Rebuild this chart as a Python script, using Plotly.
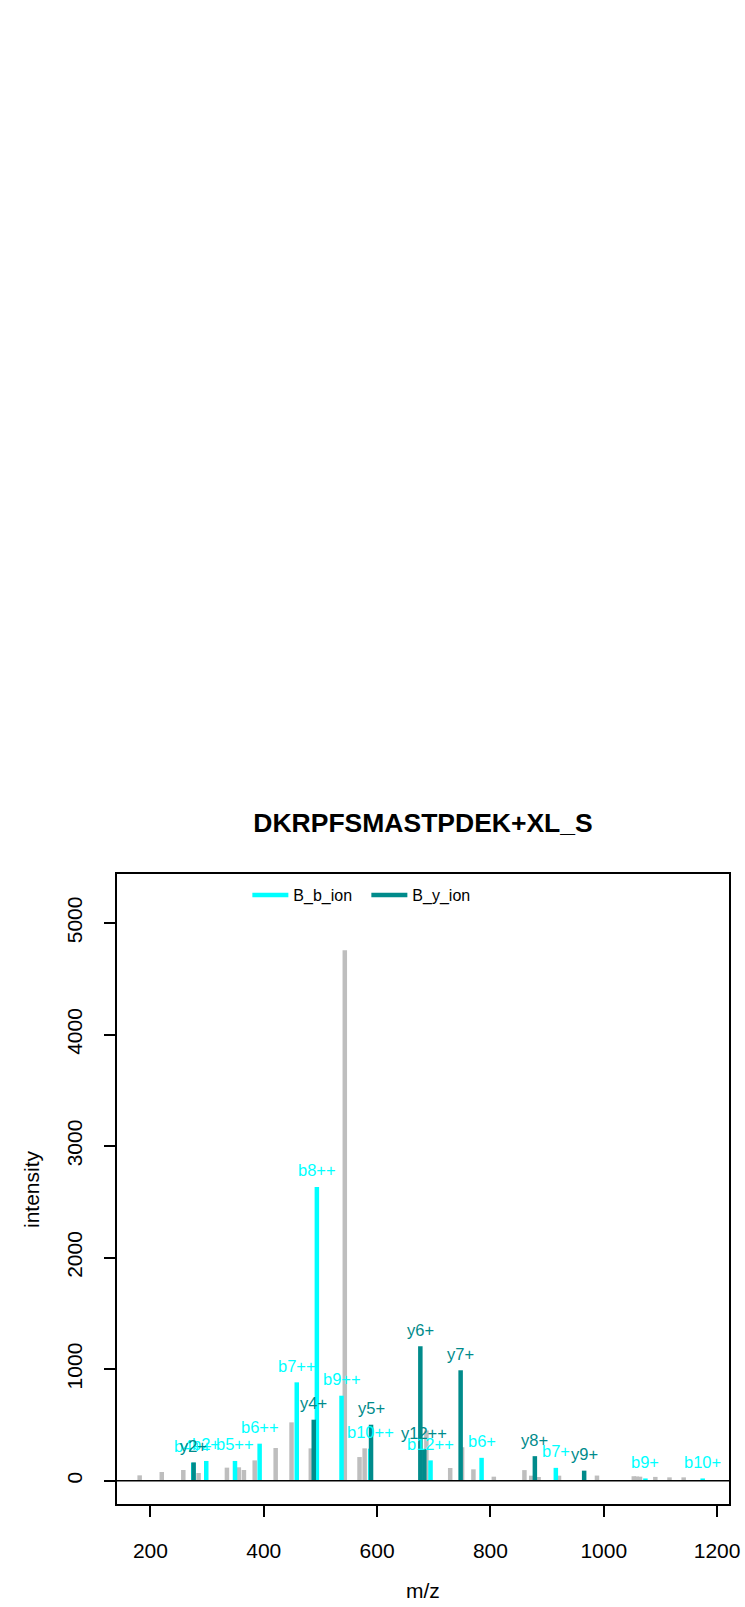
import plotly.graph_objects as go

# ---------------- data ----------------
title_text = "DKRPFSMASTPDEK+XL_S"

gray_mz = [181, 220, 258, 285, 335, 356, 365, 384, 421, 449, 483, 543, 569, 578,
           687, 729, 750, 770, 806, 860, 872, 885, 921, 988, 1053, 1058, 1064,
           1091, 1116, 1141]
gray_int = [48, 78, 96, 69, 117, 120, 96, 182, 293, 523, 290, 4756, 212, 290,
            450, 114, 300, 102, 36, 95, 45, 33, 45, 46, 40, 38, 36, 34, 30, 30]

b_mz = [275.6, 298.5, 349.2, 392.7, 458.2, 493.7, 537.2, 587.8, 694.3, 784.4,
        915.4, 1073.5, 1174.6]
b_int = [160, 177, 177, 332, 882, 2634, 762, 287, 182, 205, 115, 20, 20]
b_lab = ["b4++", "b2+", "b5++", "b6++", "b7++", "b8++", "b9++", "b10++",
         "b12++", "b6+", "b7+", "b9+", "b10+"]

y_mz = [276.2, 488.2, 589.3, 676.3, 683.3, 747.4, 878.4, 965.4]
y_int = [164, 547, 502, 1205, 284, 990, 220, 90]
y_lab = ["y2+", "y4+", "y5+", "y6+", "y12++", "y7+", "y8+", "y9+"]

x_ticks = [200, 400, 600, 800, 1000, 1200]
y_ticks = [0, 1000, 2000, 3000, 4000, 5000]

GRAY = "#BEBEBE"
CYAN = "#00FFFF"
TEAL = "#008B8B"
FONT = "Liberation Sans, Arial, sans-serif"

W, H = 745, 1607
L, R, T, B = 117, 16, 874, 103
PW, PH = W - L - R, H - T - B


def stems(xs, ys):
    sx, sy = [], []
    for x, y in zip(xs, ys):
        sx += [x, x, None]
        sy += [0, y, None]
    return sx, sy


fig = go.Figure()

gx, gy = stems(gray_mz, gray_int)
fig.add_trace(go.Scatter(x=gx, y=gy, mode="lines",
                         line=dict(color=GRAY, width=4.5), showlegend=False,
                         hoverinfo="skip"))
bx, by = stems(b_mz, b_int)
fig.add_trace(go.Scatter(x=bx, y=by, mode="lines", name="B_b_ion",
                         line=dict(color=CYAN, width=4.5)))
yx, yy = stems(y_mz, y_int)
fig.add_trace(go.Scatter(x=yx, y=yy, mode="lines", name="B_y_ion",
                         line=dict(color=TEAL, width=4.5)))

annotations = []
for xs, ys, labs, col in [(b_mz, b_int, b_lab, CYAN), (y_mz, y_int, y_lab, TEAL)]:
    for x, y, t in zip(xs, ys, labs):
        annotations.append(dict(x=x, y=y, xref="x", yref="y", text=t,
                                showarrow=False, xanchor="center",
                                yanchor="middle", yshift=16.5,
                                font=dict(size=16.5, family=FONT, color=col)))

annotations += [
    dict(text="m/z", xref="paper", yref="paper", x=0.5,
         y=-(1590 - (H - B)) / PH, xanchor="center", yanchor="middle",
         showarrow=False, font=dict(size=21, family=FONT)),
    dict(text="intensity", xref="paper", yref="paper",
         x=-(L - 31) / PW, y=0.5, xanchor="center", yanchor="middle",
         textangle=-90, showarrow=False, font=dict(size=21, family=FONT)),
]

fig.add_shape(type="line", xref="paper", yref="y", x0=0, x1=1, y0=0, y1=0,
              line=dict(color="black", width=1.5), layer="above")

fig.update_layout(
    width=W, height=H,
    margin=dict(l=L, r=R, t=T, b=B, autoexpand=False),
    paper_bgcolor="white", plot_bgcolor="white",
    font=dict(family=FONT, color="black"),
    title=dict(text="<b>" + title_text + "</b>", x=423 / W, xanchor="center",
               y=1 - 823 / H, yanchor="middle",
               font=dict(size=26.5, family=FONT, color="black")),
    showlegend=True,
    legend=dict(orientation="h", x=0.213, xanchor="left", y=0.9667,
                yanchor="middle", font=dict(size=16, family=FONT),
                itemwidth=36, entrywidth=68, entrywidthmode="pixels",
                bgcolor="rgba(0,0,0,0)"),
    xaxis=dict(range=[141, 1221], tickmode="array", tickvals=x_ticks,
               ticktext=[str(v) for v in x_ticks], ticks="outside", ticklen=11,
               tickwidth=1.5, tickcolor="black", showgrid=False, zeroline=False,
               showline=True, linecolor="black", linewidth=2, mirror=True,
               tickfont=dict(size=21, family=FONT), ticklabelstandoff=16,
               automargin=False),
    yaxis=dict(range=[-209, 5440], tickmode="array", tickvals=y_ticks,
               ticktext=[str(v) for v in y_ticks], ticks="outside", ticklen=11,
               tickwidth=1.5, tickcolor="black", showgrid=False, zeroline=False,
               showline=True, linecolor="black", linewidth=2, mirror=True,
               tickangle=-90, tickfont=dict(size=21, family=FONT),
               ticklabelstandoff=14, automargin=False),
    annotations=annotations,
)

fig.write_html("out.html",
               config={"displayModeBar": False},
               post_script="document.body.style.margin='0';"
                           "document.body.style.overflow='hidden';")
